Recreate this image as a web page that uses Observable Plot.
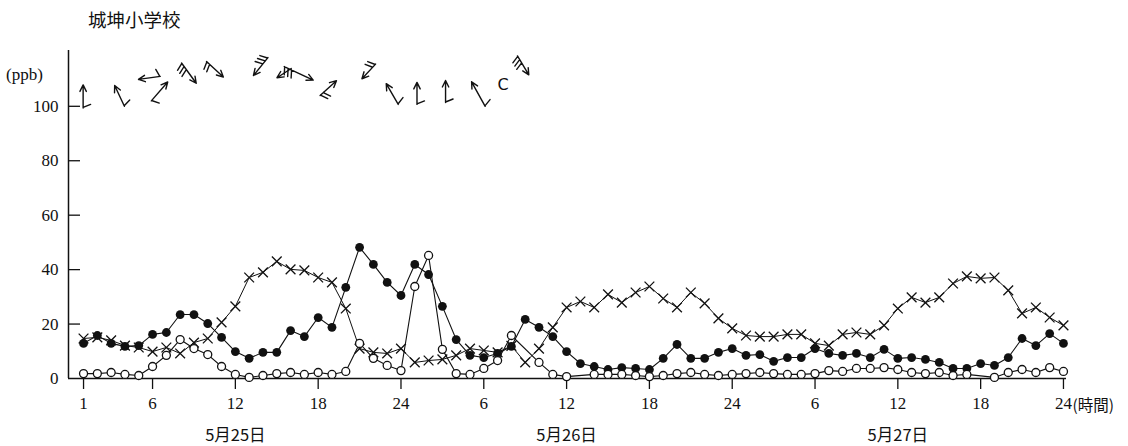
<!DOCTYPE html>
<html><head><meta charset="utf-8">
<script src="https://cdn.jsdelivr.net/npm/d3@7"></script>
<script src="https://cdn.jsdelivr.net/npm/@observablehq/plot@0.6"></script>
<style>
body{margin:0;background:#fff;}
#wrap{position:relative;width:1128px;height:446px;overflow:hidden;}
#title{position:absolute;left:88px;top:6px;font:18.5px "Noto Sans CJK JP";color:#111;}
#unit{position:absolute;left:6px;top:65px;font:17px "Liberation Serif",serif;color:#111;}
</style></head><body>
<div id="wrap"><div id="chart"></div><div id="title">城坤小学校</div><div id="unit">(ppb)</div></div>
<script>
// hour index: 1..24 = 5/25, 25..48 = 5/26, 49..72 = 5/27
const hours = d3.range(1, 73);
const filledSeries = [12.9,15.8,12.9,11.8,12.1,16.2,16.9,23.5,23.5,20.2,
  15.1,9.9,7.4,9.6,9.6,17.6,15.4,22.4,18.8,33.5,
  48.2,41.9,35.3,30.5,41.9,38.2,26.5,14.3,8.5,7.7,
  9.2,11.8,21.7,18.8,15.4,9.9,5.5,4.4,3.3,4.0,
  3.7,3.3,7.4,12.5,7.4,7.4,9.6,11.0,8.5,8.8,
  6.3,7.7,7.7,11.0,9.2,8.5,9.2,7.7,10.7,7.4,
  7.7,7.0,5.9,3.7,3.7,5.5,4.8,7.7,14.7,12.1,16.5,12.9];
const openSeries = [1.8,1.8,2.2,1.5,1.1,4.4,8.5,14.3,11.0,8.8,
  4.4,1.5,0.4,1.1,1.8,2.2,1.5,2.2,1.5,2.6,
  12.9,7.4,4.8,2.9,33.8,45.2,10.7,1.8,1.5,3.7,
  6.6,15.8,null,5.9,1.5,0.7,null,1.5,1.5,1.5,
  1.1,0.7,1.1,1.8,2.2,1.5,1.1,1.5,1.8,2.2,
  1.8,1.5,1.5,1.8,2.9,2.6,3.7,3.7,4.0,3.3,
  2.2,1.8,2.2,1.1,1.5,null,0.4,2.2,3.3,2.2,4.0,2.6];
const crossSeries = [14.7,15.1,14.0,12.1,11.4,9.9,11.4,9.2,13.2,14.7,
  20.6,26.5,37.1,39.0,43.0,40.1,39.7,37.1,35.3,25.7,
  11.0,9.6,9.2,11.0,5.9,6.6,7.0,8.5,11.0,10.3,
  9.6,12.0,5.9,11.0,18.8,26.1,28.3,26.1,30.9,27.9,
  31.6,33.8,29.4,26.1,31.6,27.6,22.1,18.4,15.8,15.4,
  15.4,16.2,16.2,12.9,12.1,16.2,16.9,16.2,19.5,25.7,
  29.8,27.9,29.8,34.9,37.5,36.8,37.1,32.4,23.9,26.1,22.4,19.5];

const tickHours = [1,6,12,18,24,30,36,42,48,54,60,66,72];
const tickLabels = ["1","6","12","18","24","6","12","18","24","6","12","18","24"];
const yTicks = [0,20,40,60,80,100];
const dayHours = [12,36,60];
const dayLabels = ["5月25日","5月26日","5月27日"];
const unitHour = [72];
const unitLabel = ["(時間)"];

// wind arrows (position in hour / ppb units, direction in degrees clockwise from north)
const windHour = [0.97,3.96,6.56,5.91,8.10,9.91,14.36,16.05,15.54,18.14,22.16,23.80,25.16,27.23,30.10,32.44];
const windLevel = [99.4,100.0,111.0,102.0,115.9,116.5,117.9,113.9,114.6,104.0,115.5,100.7,100.7,101.4,100.0,118.5];
const windDir = [0,-25,-98,41,144,133,-141,-123,115,48,-137,-30,0,0,-29,149];
const windLen = [23,23,22,25,25,23,23,17,32,22,20,24,22,22,28,22];
const windFeathers = [1,1,1,1,3,2,3,0,3,2,2,1,1,1,1,3];
const calmHour = [31.4];
const calmLevel = [107.9];
const calmText = ["C"];

const toRows = (vals) => hours.map((h, i) => ({h, v: vals[i]})).filter(d => d.v != null);
const filledRows = toRows(filledSeries);
const openRows = toRows(openSeries);
const crossRows = toRows(crossSeries);
const windRows = windHour.map((h, i) => ({h, v: windLevel[i], dir: windDir[i], len: windLen[i], n: windFeathers[i]}));
const labelMap = new Map(tickHours.map((h, i) => [h, tickLabels[i]]));

function barb(n) {
  return {draw(ctx, l) {
    ctx.moveTo(0, 0); ctx.lineTo(0, -l);
    ctx.moveTo(-3.2, -l + 6.5); ctx.lineTo(0, -l); ctx.lineTo(3.2, -l + 6.5);
    for (let i = 0; i < n; i++) {
      const y0 = -0.5 - i * 3.8;
      ctx.moveTo(0, y0); ctx.lineTo(7.5, y0 - 3);
    }
  }};
}

const xMin = -0.09, xMax = 72.22;
const windMarks = [0,1,2,3].map(n => Plot.vector(windRows.filter(d => d.n === n), {
  x: "h", y: "v", rotate: "dir", length: "len", anchor: "start",
  shape: barb(n), stroke: "#111", strokeWidth: 1.4
}));

const chart = Plot.plot({
  width: 1128, height: 446,
  marginLeft: 68, marginRight: 62, marginTop: 50, marginBottom: 68,
  x: {domain: [xMin, xMax]},
  y: {domain: [0, 120.5]},
  length: {type: "identity"},
  style: {fontFamily: '"Liberation Serif", serif', fontSize: "16px", color: "#111", background: "#fff"},
  marks: [
    Plot.ruleY([0], {stroke: "#111", strokeWidth: 1.5}),
    Plot.ruleX([xMin], {y1: 0, y2: 120.5, stroke: "#111", strokeWidth: 1.5}),
    Plot.ruleY(yTicks.slice(1), {x1: xMin, x2: xMin + 0.87, stroke: "#111", strokeWidth: 1.3}),
    Plot.axisY({ticks: yTicks, tickSize: 0, tickPadding: 10, fontSize: 17, label: null}),
    Plot.axisX({ticks: tickHours, tickSize: 11, tickPadding: 7, fontSize: 17, label: null,
      tickFormat: d => labelMap.get(d), strokeWidth: 1.3}),
    Plot.text(unitHour, {x: d => d, y: 0, dy: 28, dx: 9, text: (d, i) => unitLabel[i], textAnchor: "start",
      fontFamily: '"Noto Sans CJK JP"', fontSize: 15.5}),
    Plot.text(dayHours, {x: d => d, y: 0, dy: 57, text: (d, i) => dayLabels[i],
      fontFamily: '"Noto Sans CJK JP"', fontSize: 16.5}),
    Plot.line(crossRows, {x: "h", y: "v", stroke: "#111", strokeWidth: 1}),
    Plot.line(filledRows, {x: "h", y: "v", stroke: "#111", strokeWidth: 1.1}),
    Plot.line(openRows, {x: "h", y: "v", stroke: "#111", strokeWidth: 1.1}),
    Plot.dot(crossRows, {x: "h", y: "v", symbol: "times", r: 4.5, stroke: "#111", strokeWidth: 1.3}),
    Plot.dot(filledRows, {x: "h", y: "v", r: 4.4, fill: "#111", stroke: "none"}),
    Plot.dot(openRows, {x: "h", y: "v", r: 4, fill: "#fff", stroke: "#111", strokeWidth: 1.3}),
    ...windMarks,
    Plot.text(calmHour, {x: d => d, y: (d, i) => calmLevel[i], text: (d, i) => calmText[i],
      fontFamily: "DejaVu Sans", fontSize: 16})
  ]
});
document.getElementById("chart").appendChild(chart);
</script>
</body></html>
